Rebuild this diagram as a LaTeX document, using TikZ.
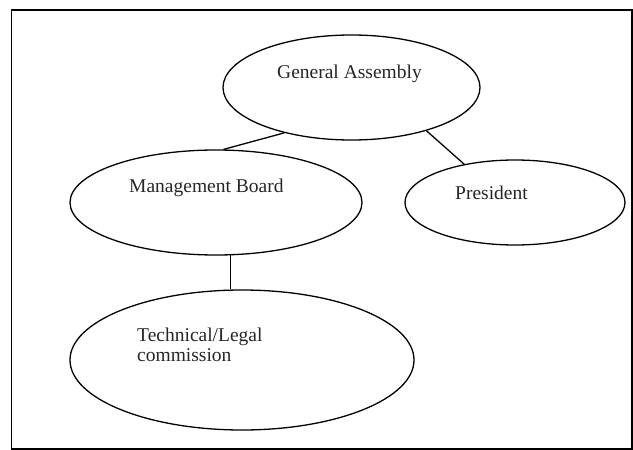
\documentclass[tikz,border=0pt]{standalone}
\usepackage{fontspec}
\setmainfont{Liberation Serif}
\usetikzlibrary{shapes.geometric}
\begin{document}
\begin{tikzpicture}[x=1pt,y=-1pt,
  oval/.style={draw=black,line width=1.3pt,ellipse,inner sep=0pt},
  lbl/.style={anchor=base west,inner sep=0pt,font=\fontsize{19.5}{20}\selectfont,text=black!85},
  link/.style={draw=black,line width=1.3pt}]
\useasboundingbox (0,0) rectangle (633,450);
\draw[line width=1.5pt] (11.5,10) rectangle (632,449);
\node[oval,minimum width=257pt,minimum height=105pt] (ga) at (351.5,87.5) {};
\node[oval,minimum width=292pt,minimum height=105pt] (mb) at (216,202.5) {};
\node[oval,minimum width=220pt,minimum height=85pt] (pr) at (515,202.5) {};
\node[oval,minimum width=344pt,minimum height=140pt] (tl) at (242,360) {};
\node[lbl] (gat) at (277,78) {General Assembly};
\node[lbl] (mbt) at (129,192.5) {Management Board};
\node[lbl] (prt) at (455,199) {President};
\node[lbl,align=left] (tlt) at (137,361.5) {Technical/Legal\\commission};
\draw[link] (ga.214) -- (mb.82);
\draw[link] (ga.330) -- (pr.143);
\draw[link] (mb.285) -- (mb.285 |- tl.north);
\end{tikzpicture}
\end{document}
